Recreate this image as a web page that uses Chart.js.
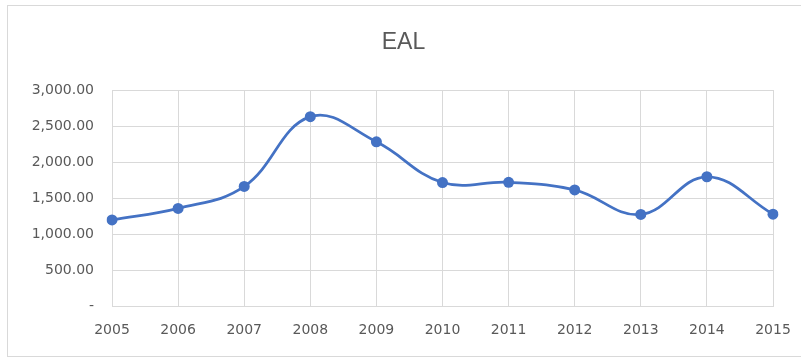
<!DOCTYPE html>
<html>
<head>
<meta charset="utf-8">
<script src="https://cdn.jsdelivr.net/npm/chart.js@4/dist/chart.umd.min.js"></script>
<style>
    html, body { margin: 0; padding: 0; background: #fff; }
    #frame {
        position: absolute; left: 7px; top: 5px; width: 800px; height: 352px;
        border: 1px solid #d9d9d9; border-right: none; box-sizing: border-box;
    }
    #wrap { position: absolute; left: 0; top: 0; width: 801px; height: 359px; }
</style>
</head>
<body>
<div id="frame"></div>
<div id="wrap"><canvas id="ealChart" width="801" height="359"></canvas></div>
<script>
// EAL yearly values
const years = ['2005', '2006', '2007', '2008', '2009', '2010', '2011', '2012', '2013', '2014', '2015'];
const ealValues = [1195, 1355, 1660, 2630, 2280, 1715, 1718, 1612, 1272, 1795, 1275];
const yTicks = [0, 500, 1000, 1500, 2000, 2500, 3000];

const textColor = '#595959';
const gridColor = '#d9d9d9';
const lineColor = '#4472c4';

function formatValue(v) {
    if (v === 0) return '-';
    return v.toLocaleString('en-US', { minimumFractionDigits: 2, maximumFractionDigits: 2 });
}

new Chart(document.getElementById('ealChart'), {
    type: 'line',
    data: {
        labels: years,
        datasets: [{
            label: 'EAL',
            data: ealValues,
            borderColor: lineColor,
            backgroundColor: lineColor,
            borderWidth: 2.75,
            pointRadius: 5.5,
            pointBackgroundColor: lineColor,
            pointBorderColor: lineColor,
            pointBorderWidth: 0,
            tension: 0.4,
            fill: false
        }]
    },
    options: {
        responsive: false,
        animation: false,
        layout: { padding: { left: 26, right: 20, top: 0, bottom: 13 } },
        plugins: {
            legend: { display: false },
            tooltip: { enabled: false },
            title: {
                display: true,
                text: 'EAL',
                color: textColor,
                font: { family: 'Liberation Sans', size: 23, weight: 'normal' },
                padding: { top: 29, bottom: 33.4 }
            }
        },
        scales: {
            x: {
                offset: false,
                grid: { color: gridColor, drawTicks: false },
                border: { color: gridColor },
                ticks: {
                    color: textColor,
                    font: { family: 'DejaVu Sans', size: 14 },
                    padding: 16,
                    maxRotation: 0
                },
                afterFit: scale => {
                    // keep the plot's right edge clear of the last year label
                    scale.height = 40;
                    scale.paddingLeft = 0;
                    scale.paddingRight = 28;
                }
            },
            y: {
                min: 0,
                max: 3000,
                afterBuildTicks: scale => { scale.ticks = yTicks.map(v => ({ value: v })); },
                grid: { color: gridColor, drawTicks: false },
                border: { display: false },
                ticks: {
                    color: textColor,
                    font: { family: 'DejaVu Sans', size: 14 },
                    padding: 18,
                    callback: v => formatValue(v)
                },
                afterFit: scale => { scale.width = 86; }
            }
        }
    }
});
</script>
</body>
</html>
